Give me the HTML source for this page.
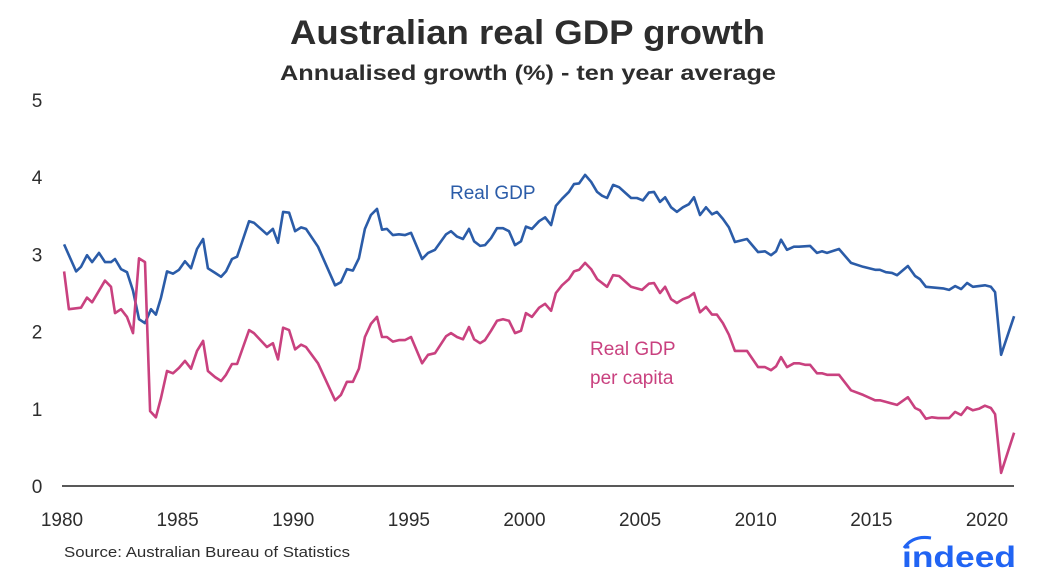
<!DOCTYPE html>
<html><head><meta charset="utf-8"><style>
html,body{margin:0;padding:0;background:#fff;}
body{width:1056px;height:576px;overflow:hidden;font-family:"Liberation Sans",sans-serif;}
svg text{font-family:"Liberation Sans",sans-serif;}
</style></head><body>
<svg id="chart" width="1056" height="576" viewBox="0 0 1056 576">
<text x="290" y="44" textLength="475" lengthAdjust="spacingAndGlyphs" font-size="34" font-weight="bold" fill="#2d2d2d">Australian real GDP growth</text>
<text x="280" y="80" textLength="496" lengthAdjust="spacingAndGlyphs" font-size="21" font-weight="bold" fill="#2d2d2d">Annualised growth (%) - ten year average</text>
<g id="yticks"></g>
<g id="xticks"></g>
<line x1="62" y1="486" x2="1014" y2="486" stroke="#222" stroke-width="1.5"/>
<g id="series"></g>
<text x="450" y="199" font-size="19" fill="#2b5ca8">Real GDP</text>
<text x="590" y="355" font-size="19" fill="#c9417f">Real GDP</text>
<text x="590" y="384" font-size="19" fill="#c9417f">per capita</text>
<text x="64" y="557" textLength="286" lengthAdjust="spacingAndGlyphs" font-size="15" fill="#2d2d2d">Source: Australian Bureau of Statistics</text>
<g>
<path d="M904 548 Q913 535 931 538" stroke="#2164f3" stroke-width="3" fill="none"/>
<text x="902" y="567" textLength="114" lengthAdjust="spacingAndGlyphs" font-size="30" font-weight="bold" fill="#2164f3">indeed</text>
</g>
</svg>
<script>
const yTickValues = [0,1,2,3,4,5];
const xTickYears = [1980,1985,1990,1995,2000,2005,2010,2015,2020];
const gdpYears = [1980.09,1980.61,1980.82,1981.08,1981.30,1981.60,1981.86,1982.12,1982.29,1982.55,1982.81,1983.07,1983.33,1983.59,1983.85,1984.06,1984.28,1984.54,1984.80,1985.06,1985.32,1985.58,1985.84,1986.10,1986.31,1986.62,1986.88,1987.09,1987.35,1987.57,1987.83,1988.09,1988.30,1988.86,1989.12,1989.34,1989.56,1989.82,1990.08,1990.34,1990.55,1991.07,1991.81,1992.06,1992.32,1992.58,1992.84,1993.10,1993.36,1993.62,1993.84,1994.05,1994.31,1994.57,1994.83,1995.09,1995.57,1995.83,1996.13,1996.61,1996.82,1997.08,1997.34,1997.60,1997.82,1998.08,1998.29,1998.55,1998.81,1999.07,1999.33,1999.59,1999.85,2000.06,2000.32,2000.63,2000.89,2001.15,2001.36,2001.62,2001.92,2002.14,2002.36,2002.62,2002.88,2003.14,2003.35,2003.57,2003.83,2004.09,2004.35,2004.61,2004.86,2005.12,2005.38,2005.60,2005.86,2006.08,2006.34,2006.59,2006.85,2007.11,2007.33,2007.59,2007.85,2008.11,2008.32,2008.58,2008.84,2009.10,2009.62,2010.10,2010.40,2010.66,2010.88,2011.09,2011.35,2011.65,2011.87,2012.35,2012.65,2012.86,2013.08,2013.60,2014.12,2014.64,2015.16,2015.37,2015.63,2015.89,2016.11,2016.58,2016.89,2017.10,2017.36,2018.10,2018.36,2018.62,2018.88,2019.14,2019.39,2019.91,2020.17,2020.35,2020.61,2021.17];
const gdpValues = [3.13,2.78,2.84,2.99,2.90,3.02,2.90,2.90,2.94,2.81,2.77,2.53,2.16,2.11,2.29,2.22,2.44,2.78,2.75,2.80,2.91,2.82,3.07,3.20,2.82,2.76,2.71,2.78,2.94,2.97,3.20,3.43,3.41,3.26,3.33,3.15,3.55,3.54,3.30,3.35,3.33,3.10,2.60,2.64,2.81,2.79,2.95,3.33,3.51,3.59,3.32,3.33,3.25,3.26,3.25,3.28,2.94,3.02,3.06,3.26,3.30,3.23,3.20,3.33,3.17,3.11,3.12,3.21,3.34,3.34,3.30,3.12,3.17,3.36,3.33,3.43,3.48,3.38,3.63,3.72,3.81,3.91,3.92,4.03,3.94,3.81,3.76,3.73,3.90,3.87,3.80,3.73,3.73,3.70,3.80,3.81,3.68,3.74,3.61,3.55,3.61,3.65,3.74,3.51,3.61,3.52,3.55,3.46,3.35,3.16,3.20,3.03,3.04,2.99,3.04,3.19,3.06,3.10,3.10,3.11,3.02,3.04,3.02,3.07,2.89,2.84,2.80,2.80,2.77,2.76,2.73,2.85,2.72,2.68,2.58,2.56,2.54,2.59,2.55,2.63,2.58,2.60,2.58,2.51,1.70,2.20];
const pcYears = [1980.09,1980.30,1980.82,1981.08,1981.30,1981.60,1981.86,1982.12,1982.29,1982.55,1982.81,1983.07,1983.33,1983.59,1983.81,1984.06,1984.28,1984.54,1984.80,1985.06,1985.32,1985.58,1985.84,1986.10,1986.31,1986.62,1986.88,1987.09,1987.35,1987.57,1987.83,1988.09,1988.30,1988.86,1989.12,1989.34,1989.56,1989.82,1990.08,1990.34,1990.55,1991.07,1991.81,1992.06,1992.32,1992.58,1992.84,1993.10,1993.36,1993.62,1993.84,1994.05,1994.31,1994.57,1994.83,1995.09,1995.57,1995.83,1996.13,1996.61,1996.82,1997.08,1997.34,1997.60,1997.82,1998.08,1998.29,1998.55,1998.81,1999.07,1999.33,1999.59,1999.85,2000.06,2000.32,2000.63,2000.89,2001.15,2001.36,2001.62,2001.92,2002.14,2002.36,2002.62,2002.88,2003.14,2003.57,2003.83,2004.09,2004.61,2005.08,2005.38,2005.60,2005.86,2006.08,2006.34,2006.59,2006.85,2007.11,2007.33,2007.59,2007.85,2008.11,2008.32,2008.58,2008.84,2009.10,2009.62,2010.10,2010.40,2010.66,2010.88,2011.09,2011.35,2011.65,2011.87,2012.13,2012.35,2012.65,2012.86,2013.08,2013.60,2014.12,2014.64,2015.16,2015.37,2015.63,2016.11,2016.58,2016.89,2017.10,2017.36,2017.62,2017.88,2018.36,2018.62,2018.88,2019.14,2019.39,2019.65,2019.91,2020.17,2020.35,2020.61,2021.17];
const pcValues = [2.78,2.29,2.31,2.44,2.38,2.53,2.66,2.58,2.24,2.29,2.19,1.98,2.95,2.90,0.97,0.89,1.14,1.49,1.46,1.53,1.62,1.52,1.75,1.88,1.49,1.41,1.36,1.44,1.58,1.58,1.80,2.02,1.98,1.80,1.85,1.64,2.05,2.02,1.77,1.83,1.80,1.59,1.11,1.18,1.35,1.35,1.52,1.93,2.10,2.19,1.93,1.93,1.87,1.89,1.89,1.93,1.59,1.70,1.72,1.94,1.98,1.93,1.90,2.06,1.90,1.85,1.89,2.01,2.14,2.16,2.14,1.98,2.01,2.24,2.19,2.31,2.36,2.27,2.50,2.60,2.68,2.78,2.80,2.89,2.81,2.68,2.58,2.73,2.72,2.58,2.54,2.62,2.63,2.50,2.58,2.42,2.37,2.42,2.45,2.50,2.25,2.32,2.22,2.22,2.11,1.96,1.75,1.75,1.54,1.54,1.50,1.55,1.67,1.54,1.59,1.59,1.57,1.57,1.46,1.46,1.44,1.44,1.24,1.18,1.11,1.11,1.09,1.05,1.15,1.01,0.98,0.87,0.89,0.88,0.88,0.96,0.92,1.02,0.98,1.00,1.04,1.01,0.93,0.17,0.69];

const NS='http://www.w3.org/2000/svg';
function xScale(yr){return 62+(yr-1980)*23.125;}
function yScale(v){return 486-v*77.2;}
const yG=document.getElementById('yticks');
yTickValues.forEach(v=>{
  const t=document.createElementNS(NS,'text');
  
  
  t.setAttribute('x',37);t.setAttribute('y',yScale(v)+7);
  t.setAttribute('text-anchor','middle');t.setAttribute('font-size','19');t.setAttribute('fill','#2d2d2d');
  t.textContent=v;yG.appendChild(t);
});
const xG=document.getElementById('xticks');
xTickYears.forEach(yr=>{
  const t=document.createElementNS(NS,'text');
  
  
  t.setAttribute('x',xScale(yr));t.setAttribute('y',526);
  t.setAttribute('text-anchor','middle');t.setAttribute('font-size','19');t.setAttribute('fill','#2d2d2d');
  t.textContent=yr;xG.appendChild(t);
});
function line(years,vals,color,name){
  const p=document.createElementNS(NS,'path');
  
  
  p.setAttribute('d',years.map((y,i)=>(i?'L':'M')+xScale(y).toFixed(1)+' '+yScale(vals[i]).toFixed(1)).join(' '));
  p.setAttribute('fill','none');p.setAttribute('stroke',color);p.setAttribute('stroke-width','2.6');p.setAttribute('stroke-linejoin','round');
  document.getElementById('series').appendChild(p);
}
line(gdpYears,gdpValues,'#2b5ca8','real-gdp-line');
line(pcYears,pcValues,'#c9417f','real-gdp-per-capita-line');
</script>
</body></html>
